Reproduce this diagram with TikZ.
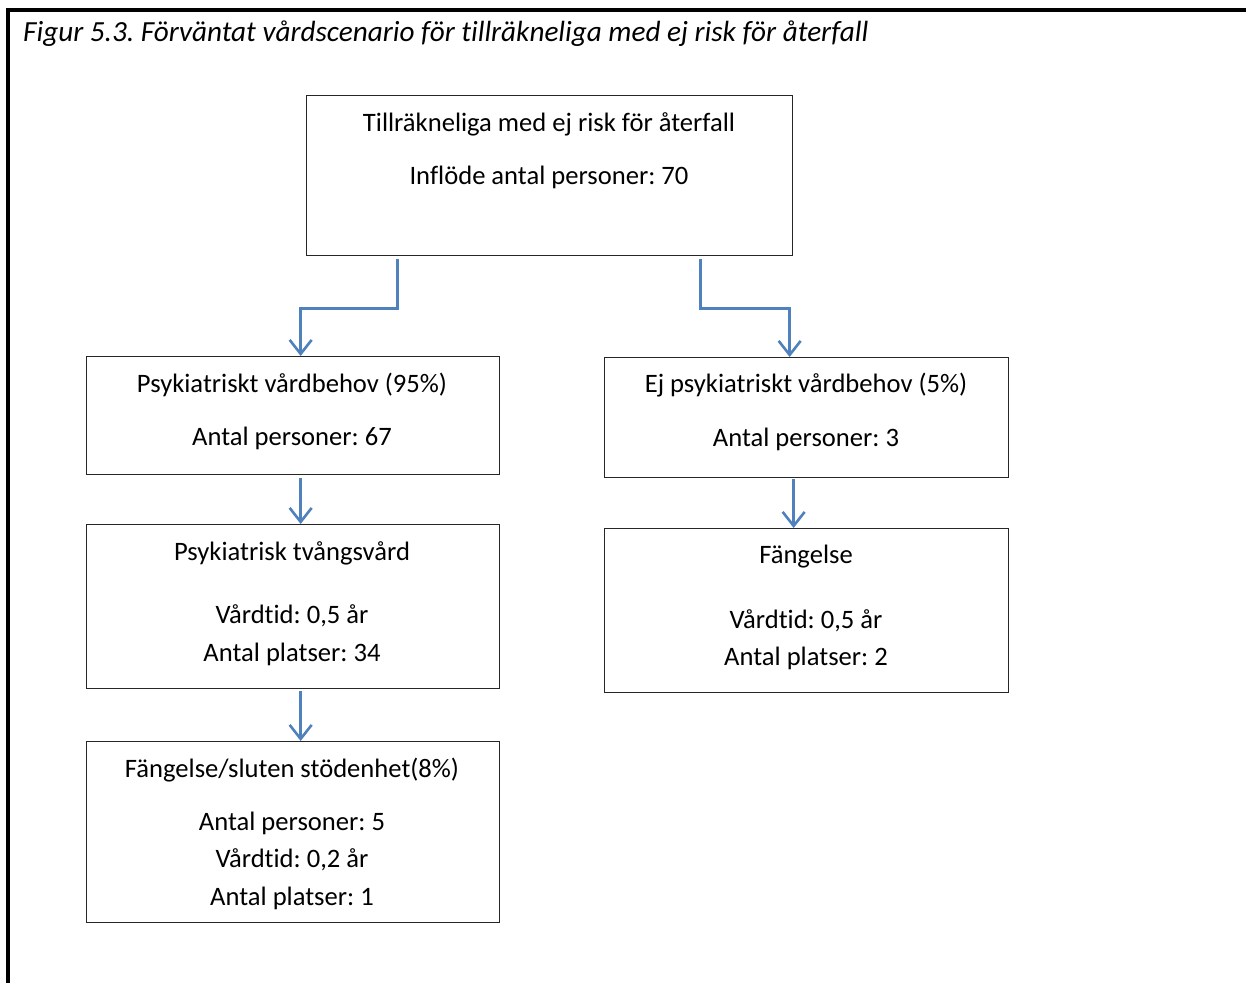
\documentclass[tikz,border=0pt]{standalone}
\usepackage{fontspec}
\setmainfont{Carlito}[Ligatures=NoCommon]
\usetikzlibrary{arrows.meta}
\definecolor{pilblue}{HTML}{4F81BD}
\frenchspacing

\begin{document}
\begin{tikzpicture}[x=1pt,y=-1pt,
   ruta/.style={draw=black!85,line width=1.3pt,anchor=north west,inner sep=0pt},
   txt/.style={font=\fontsize{26.6}{30}\selectfont,inner sep=0pt},
   pil/.style={draw=pilblue,line width=2.6pt,-{Straight Barb[length=14pt,width=22pt]}}]
   \useasboundingbox (0,0) rectangle (1246,983);
   % ram
   \draw[line width=3.5pt] (1246,10) -- (8,10) -- (8,983);
   \node[txt,font=\itshape\fontsize{29.2}{32}\selectfont,anchor=west] (titel) at (23,34)
      {Figur 5.3. Förväntat vårdscenario för tillräkneliga med ej risk för återfall};

   % rutor
   \node[ruta,minimum width=486,minimum height=160] (topp) at (306,95) {};
   \node[ruta,minimum width=413,minimum height=118] (v1) at (86,356) {};
   \node[ruta,minimum width=404,minimum height=120] (h1) at (604,357) {};
   \node[ruta,minimum width=413,minimum height=164] (v2) at (86,524) {};
   \node[ruta,minimum width=404,minimum height=164] (h2) at (604,528) {};
   \node[ruta,minimum width=413,minimum height=181] (v3) at (86,741) {};

   % texter
   \node[txt] (topp1) at (549,124) {Tillräkneliga med ej risk för återfall};
   \node[txt] (topp2) at (549,177) {Inflöde antal personer: 70};
   \node[txt] (v1a) at (292,385) {Psykiatriskt vårdbehov (95\%)};
   \node[txt] (v1b) at (292,438) {Antal personer: 67};
   \node[txt] (h1a) at (806,385) {Ej psykiatriskt vårdbehov (5\%)};
   \node[txt] (h1b) at (806,439) {Antal personer: 3};
   \node[txt] (v2a) at (292,553) {Psykiatrisk tvångsvård};
   \node[txt] (v2b) at (292,616) {Vårdtid: 0,5 år};
   \node[txt] (v2c) at (292,654) {Antal platser: 34};
   \node[txt] (h2a) at (806,557) {Fängelse};
   \node[txt] (h2b) at (806,621) {Vårdtid: 0,5 år};
   \node[txt] (h2c) at (806,658) {Antal platser: 2};
   \node[txt] (v3a) at (292,770) {Fängelse/sluten stödenhet(8\%)};
   \node[txt] (v3b) at (292,823) {Antal personer: 5};
   \node[txt] (v3c) at (292,860) {Vårdtid: 0,2 år};
   \node[txt] (v3d) at (292,898) {Antal platser: 1};

   % pilar
   \draw[pil] ([xshift=-152pt,yshift=-3pt]topp.south) -- ++(0,49) -| ([xshift=7.5pt]v1.north);
   \draw[pil] ([xshift=151pt,yshift=-3pt]topp.south) -- ++(0,49) -| ([xshift=-17pt]h1.north);
   \draw[pil] ([xshift=7.5pt,yshift=-3pt]v1.south) -- ([xshift=7.5pt]v2.north);
   \draw[pil] ([xshift=7.5pt,yshift=-2pt]v2.south) -- ([xshift=7.5pt]v3.north);
   \draw[pil] ([xshift=-13pt,yshift=-1pt]h1.south) -- ([xshift=-13pt]h2.north);
\end{tikzpicture}
\end{document}
